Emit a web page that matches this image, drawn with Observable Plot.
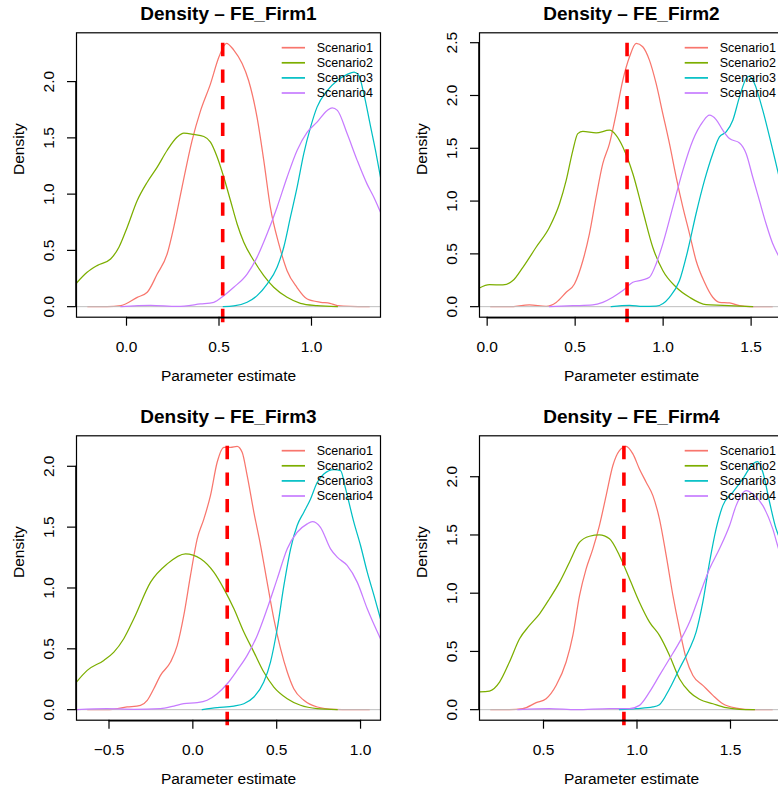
<!DOCTYPE html>
<html><head><meta charset="utf-8">
<script src="https://cdn.jsdelivr.net/npm/d3@7"></script>
<script src="https://cdn.jsdelivr.net/npm/@observablehq/plot@0.6"></script>
<style>
body{margin:0;background:#fff;}
#wrap{position:relative;width:778px;height:790px;overflow:hidden;background:#fff;}
.panel{position:absolute;}
.panel svg{max-width:none !important;}
</style></head><body><div id="wrap"></div>
<script>
const scenarios = ["Scenario1", "Scenario2", "Scenario3", "Scenario4"];
const colors = ["#F8766D", "#7CAE00", "#00BFC4", "#C77CFF"];
const firms = ["FE_Firm1", "FE_Firm2", "FE_Firm3", "FE_Firm4"];
const trueValues = [0.52, 0.795, 0.205, 0.93];
const xDomains = [[-0.2703, 1.373], [-0.0436, 1.684], [-0.6938, 1.119], [0.1578, 1.7834]];
const xTicks = [[0, 0.5, 1], [0, 0.5, 1, 1.5], [-0.5, 0, 0.5, 1], [0.5, 1, 1.5]];
const yTicks = [[0, 0.5, 1, 1.5, 2], [0, 0.5, 1, 1.5, 2, 2.5], [0, 0.5, 1, 1.5, 2], [0, 0.5, 1, 1.5, 2]];

// [parameter estimate, density]
const firm1Scenario1 = [[-0.209,0],[-0.105,0],[-0.03,0.01],[0.058,0.083],[0.112,0.128],[0.166,0.29],[0.22,0.47],[0.256,0.71],[0.30,1.06],[0.355,1.48],[0.40,1.74],[0.454,1.98],[0.50,2.22],[0.54,2.34],[0.58,2.28],[0.625,2.16],[0.66,2.01],[0.706,1.68],[0.742,1.30],[0.778,0.88],[0.823,0.56],[0.868,0.32],[0.922,0.17],[0.977,0.068],[1.05,0.039],[1.10,0.03],[1.14,0.01],[1.21,0.002],[1.312,0]];
const firm1Scenario2 = [[-0.27,0.21],[-0.213,0.305],[-0.159,0.365],[-0.086,0.424],[-0.041,0.528],[0.004,0.706],[0.058,0.943],[0.112,1.106],[0.166,1.24],[0.22,1.39],[0.274,1.507],[0.31,1.542],[0.364,1.53],[0.418,1.512],[0.454,1.462],[0.49,1.33],[0.526,1.15],[0.562,0.943],[0.598,0.735],[0.634,0.572],[0.688,0.41],[0.742,0.276],[0.796,0.172],[0.868,0.083],[0.94,0.03],[1.03,0.009],[1.14,0]];
const firm1Scenario3 = [[0.523,0],[0.58,0.006],[0.652,0.039],[0.706,0.098],[0.76,0.2],[0.814,0.35],[0.85,0.528],[0.886,0.795],[0.922,1.06],[0.958,1.358],[0.995,1.595],[1.03,1.773],[1.085,1.92],[1.14,2.01],[1.193,2.064],[1.23,2.085],[1.256,2.055],[1.283,1.89],[1.32,1.595],[1.346,1.388],[1.373,1.15]];
const firm1Scenario4 = [[-0.03,0],[0.13,0.012],[0.274,0.003],[0.40,0.024],[0.472,0.039],[0.526,0.098],[0.58,0.172],[0.652,0.29],[0.706,0.44],[0.76,0.647],[0.814,0.884],[0.868,1.15],[0.922,1.388],[0.977,1.551],[1.03,1.64],[1.085,1.744],[1.112,1.767],[1.14,1.744],[1.193,1.536],[1.247,1.30],[1.30,1.091],[1.337,0.973],[1.373,0.839]];

const firm2Scenario1 = [[0.02,0],[0.127,0],[0.24,0.016],[0.335,0.003],[0.392,0.04],[0.449,0.136],[0.496,0.215],[0.544,0.437],[0.581,0.69],[0.619,1.038],[0.657,1.354],[0.695,1.544],[0.733,1.829],[0.771,2.146],[0.809,2.367],[0.847,2.494],[0.884,2.462],[0.922,2.335],[0.96,2.114],[0.998,1.829],[1.036,1.544],[1.074,1.228],[1.112,0.943],[1.15,0.69],[1.187,0.437],[1.235,0.231],[1.282,0.089],[1.32,0.041],[1.377,0.035],[1.434,0.01],[1.49,0],[1.62,0]];
const firm2Scenario2 = [[-0.044,0.177],[0.013,0.209],[0.089,0.206],[0.146,0.247],[0.203,0.373],[0.278,0.563],[0.354,0.753],[0.411,0.975],[0.449,1.196],[0.487,1.481],[0.515,1.639],[0.544,1.661],[0.619,1.646],[0.695,1.671],[0.733,1.623],[0.771,1.513],[0.828,1.259],[0.884,0.911],[0.941,0.563],[0.998,0.342],[1.074,0.184],[1.15,0.089],[1.244,0.019],[1.339,0.013],[1.434,0.006],[1.509,0]];
const firm2Scenario3 = [[0.705,0],[0.809,0.013],[0.884,0.003],[0.96,0.006],[1.036,0.089],[1.093,0.247],[1.14,0.532],[1.187,0.88],[1.235,1.196],[1.282,1.449],[1.32,1.608],[1.358,1.655],[1.396,1.766],[1.434,1.987],[1.472,2.161],[1.49,2.184],[1.519,2.114],[1.566,1.861],[1.614,1.544],[1.655,1.259],[1.684,1.06]];
const firm2Scenario4 = [[0.354,0],[0.487,0.009],[0.60,0.016],[0.657,0.041],[0.714,0.089],[0.771,0.152],[0.828,0.231],[0.884,0.253],[0.922,0.278],[0.96,0.405],[0.998,0.595],[1.055,0.943],[1.112,1.291],[1.169,1.576],[1.225,1.75],[1.263,1.813],[1.301,1.772],[1.339,1.671],[1.377,1.592],[1.434,1.551],[1.472,1.449],[1.509,1.228],[1.547,1.006],[1.585,0.785],[1.623,0.595],[1.655,0.484],[1.684,0.40]];

const firm3Scenario1 = [[-0.627,0],[-0.511,0],[-0.392,0.022],[-0.312,0.036],[-0.272,0.077],[-0.233,0.172],[-0.193,0.282],[-0.133,0.391],[-0.093,0.528],[-0.054,0.774],[-0.014,1.103],[0.026,1.404],[0.066,1.568],[0.105,1.759],[0.145,2.033],[0.185,2.156],[0.225,2.156],[0.264,2.164],[0.294,2.115],[0.324,1.923],[0.364,1.622],[0.404,1.349],[0.443,1.048],[0.483,0.747],[0.523,0.501],[0.563,0.309],[0.602,0.172],[0.662,0.077],[0.742,0.022],[0.841,0.003],[0.94,0],[1.052,0]];
const firm3Scenario2 = [[-0.694,0.227],[-0.630,0.323],[-0.531,0.405],[-0.471,0.473],[-0.412,0.583],[-0.352,0.747],[-0.252,1.048],[-0.153,1.198],[-0.044,1.281],[0.046,1.240],[0.125,1.130],[0.185,0.993],[0.245,0.829],[0.304,0.638],[0.364,0.473],[0.423,0.309],[0.483,0.186],[0.563,0.090],[0.642,0.036],[0.742,0.008],[0.861,0]];
const firm3Scenario3 = [[0.056,0],[0.145,0.016],[0.245,0.03],[0.304,0.049],[0.364,0.104],[0.423,0.227],[0.463,0.391],[0.503,0.665],[0.543,1.021],[0.583,1.322],[0.622,1.513],[0.662,1.623],[0.702,1.732],[0.742,1.869],[0.781,1.937],[0.841,1.973],[0.881,1.965],[0.911,1.814],[0.96,1.541],[1.0,1.349],[1.04,1.13],[1.08,0.939],[1.119,0.747]];
const firm3Scenario4 = [[-0.69,0],[-0.511,0.008],[-0.352,0.003],[-0.193,0.008],[-0.113,0.03],[-0.054,0.049],[0.026,0.057],[0.085,0.077],[0.145,0.131],[0.205,0.213],[0.264,0.323],[0.324,0.446],[0.384,0.61],[0.443,0.829],[0.503,1.075],[0.563,1.322],[0.622,1.458],[0.682,1.527],[0.712,1.546],[0.761,1.499],[0.821,1.322],[0.861,1.253],[0.92,1.185],[0.98,1.048],[1.04,0.829],[1.119,0.583]];

const firm4Scenario1 = [[0.218,0],[0.318,0],[0.389,0.009],[0.461,0.06],[0.514,0.094],[0.568,0.209],[0.621,0.409],[0.657,0.638],[0.693,0.981],[0.728,1.209],[0.764,1.381],[0.799,1.581],[0.835,1.838],[0.871,2.096],[0.906,2.224],[0.942,2.261],[0.978,2.196],[1.013,2.067],[1.049,1.953],[1.085,1.838],[1.12,1.638],[1.156,1.324],[1.192,0.981],[1.227,0.695],[1.263,0.437],[1.299,0.294],[1.352,0.209],[1.406,0.123],[1.459,0.051],[1.53,0.014],[1.619,0],[1.723,0]];
const firm4Scenario2 = [[0.158,0.152],[0.211,0.16],[0.265,0.237],[0.318,0.409],[0.372,0.609],[0.425,0.723],[0.479,0.823],[0.532,0.952],[0.586,1.095],[0.639,1.266],[0.693,1.438],[0.746,1.489],[0.799,1.501],[0.853,1.467],[0.906,1.324],[0.96,1.124],[1.013,0.923],[1.067,0.752],[1.12,0.638],[1.174,0.466],[1.227,0.266],[1.281,0.152],[1.334,0.089],[1.406,0.051],[1.477,0.017],[1.548,0.003],[1.628,0]];
const firm4Scenario3 = [[0.906,0],[0.996,0.009],[1.085,0.023],[1.12,0.043],[1.174,0.18],[1.227,0.352],[1.281,0.523],[1.316,0.666],[1.352,0.923],[1.388,1.266],[1.423,1.552],[1.459,1.752],[1.513,1.867],[1.566,1.981],[1.619,2.11],[1.646,2.13],[1.673,2.038],[1.709,1.781],[1.744,1.552],[1.757,1.495],[1.783,1.36]];
const firm4Scenario4 = [[0.363,0],[0.532,0.009],[0.675,0],[0.853,0.009],[0.96,0.009],[1.013,0.037],[1.067,0.152],[1.12,0.294],[1.174,0.437],[1.227,0.58],[1.281,0.752],[1.334,0.981],[1.388,1.209],[1.441,1.381],[1.495,1.581],[1.53,1.752],[1.584,1.881],[1.619,1.852],[1.673,1.752],[1.726,1.552],[1.757,1.381],[1.783,1.26]];

const panels = [
  [firm1Scenario1, firm1Scenario2, firm1Scenario3, firm1Scenario4],
  [firm2Scenario1, firm2Scenario2, firm2Scenario3, firm2Scenario4],
  [firm3Scenario1, firm3Scenario2, firm3Scenario3, firm3Scenario4],
  [firm4Scenario1, firm4Scenario2, firm4Scenario3, firm4Scenario4]
];

const FONT = "'Liberation Sans', Arial, Helvetica, sans-serif";
const wrap = document.getElementById("wrap");
const fmt = d3.format(".1f");

panels.forEach((series, i) => {
  const isRight = i % 2 === 1;
  const W = isRight ? 403 : 389;
  const H = 395;
  const ml = isRight ? 90 : 76;
  const mt = 32.3;
  const boxW = 304, boxH = 284.4;
  const ymax = d3.max(series.flat(), d => d[1]);
  const yDomain = [-0.04 * ymax, 1.04 * ymax];
  const xt = xTicks[i], yt = yTicks[i];

  const lineMark = (pts, k) => Plot.line(pts, {
    x: d => d[0], y: d => d[1], stroke: colors[k], strokeWidth: 1.25,
    curve: "monotone-x", clip: true
  });

  const plot = Plot.plot({
    width: W, height: H,
    marginLeft: ml, marginRight: W - ml - boxW, marginTop: mt, marginBottom: H - mt - boxH,
    style: {fontFamily: FONT, fontSize: "15.5px", background: "white", color: "black", overflow: "visible", maxWidth: "none"},
    x: {domain: xDomains[i]},
    y: {domain: yDomain},
    marks: [
      lineMark(series[0], 0),
      Plot.ruleY([0], {stroke: "#BEBEBE", strokeWidth: 1, clip: true}),
      lineMark(series[1], 1),
      lineMark(series[2], 2),
      lineMark(series[3], 3),
      Plot.ruleX([{x: trueValues[i], y1: ymax, y2: yDomain[0]}], {
        x: "x", y1: "y1", y2: "y2", stroke: "#FF0000", strokeWidth: 3.6,
        strokeDasharray: "13.3,13.3", insetBottom: -10
      }),
      Plot.frame({stroke: "black", strokeWidth: 1.2}),
      Plot.ruleY([{y: yDomain[0], x1: xt[0], x2: xt[xt.length - 1]}], {x1: "x1", x2: "x2", y: "y", stroke: "black", strokeWidth: 1.6, dy: 0.5}),
      Plot.ruleX([{x: xDomains[i][0], y1: yt[0], y2: yt[yt.length - 1]}], {x: "x", y1: "y1", y2: "y2", stroke: "black", strokeWidth: 1.6, dx: -0.5}),
      Plot.axisX({ticks: xt, tickFormat: fmt, tickSize: 9, tickPadding: 15, label: null, strokeWidth: 1.2, fontSize: 15.5, fontFamily: FONT}),
      Plot.axisY({ticks: yt, tickFormat: fmt, tickSize: 9, tickPadding: 14, tickRotate: -90, label: null, strokeWidth: 1.2, fontSize: 15.5, fontFamily: FONT}),
      Plot.text([`Density – ${firms[i]}`], {frameAnchor: "top", dy: -13, lineAnchor: "bottom", fontWeight: "bold", fontSize: 19, fill: "black", fontFamily: FONT}),
      Plot.text(["Parameter estimate"], {frameAnchor: "bottom", dy: 63.3, lineAnchor: "bottom", fontSize: 15.5, fill: "black", fontFamily: FONT}),
      Plot.text(["Density"], {frameAnchor: "left", dx: -63.3, rotate: -90, lineAnchor: "top", fontSize: 15.5, fill: "black", fontFamily: FONT})
    ]
  });

  const svg = d3.select(plot);
  // make sure the axis tick labels use the R-like base size
  svg.selectAll('g[aria-label$="tick label"]')
    .attr("font-size", 15.5).style("font-size", "15.5px")
    .attr("font-family", FONT).style("font-family", FONT)
    .attr("font-variant", "normal").style("font-variant", "normal");

  // legend (top-right inside the box, no border)
  const g = svg.append("g").attr("font-family", FONT).attr("font-size", 12.5).attr("text-anchor", "start");
  scenarios.forEach((s, k) => {
    const y = mt + 15.4 + k * 15.1;
    g.append("line").attr("x1", ml + 205.7).attr("x2", ml + 229).attr("y1", y).attr("y2", y)
      .attr("stroke", colors[k]).attr("stroke-width", 1.7);
    g.append("text").attr("x", ml + 240.7).attr("y", y).attr("dy", "0.35em").attr("fill", "black").attr("text-anchor", "start").text(s);
  });

  const div = document.createElement("div");
  div.className = "panel";
  div.style.left = (isRight ? 389 : 0) + "px";
  div.style.top = (i < 2 ? 0 : 403.4) + "px";
  div.style.width = W + "px";
  div.appendChild(plot);
  wrap.appendChild(div);
});
</script>
</body></html>
